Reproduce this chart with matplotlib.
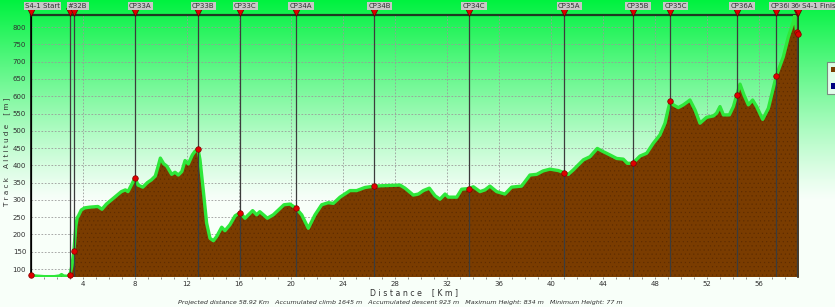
import numpy as np
import matplotlib
matplotlib.use("Agg")
import matplotlib.pyplot as plt
import matplotlib.transforms as mtransforms
from matplotlib.patches import Patch

# ---------------- data ----------------
dist_km = [0.0, 0.3, 1.0, 1.8, 2.2, 2.35, 2.5, 2.8, 3.0, 3.15, 3.3, 3.45, 3.55, 3.65, 3.87,
           4.13, 4.5, 5.15, 5.46, 5.8, 6.18, 6.56, 6.95, 7.26, 7.46, 7.75, 8.0, 8.23, 8.6,
           8.95, 9.26, 9.56, 9.8, 9.95, 10.2, 10.44, 10.82, 11.08, 11.33, 11.6, 11.85, 12.1,
           12.41, 12.6, 12.85, 13.0, 13.25, 13.51, 13.77, 14.03, 14.28, 14.67, 14.92, 15.3,
           15.7, 16.08, 16.46, 17.05, 17.36, 17.6, 18.18, 18.64, 19.03, 19.46, 19.92, 20.36,
           20.82, 21.33, 21.85, 22.36, 22.87, 23.26, 23.77, 24.54, 25.05, 25.69, 26.4, 26.97,
           28.38, 28.77, 29.41, 29.8, 30.18, 30.64, 31.08, 31.46, 31.85, 32.1, 32.75, 33.13,
           33.67, 34.03, 34.54, 34.92, 35.3, 35.82, 36.46, 36.97, 37.74, 38.38, 38.9, 39.4,
           39.92, 40.56, 41.0, 41.33, 41.72, 42.49, 43.0, 43.56, 44.0, 44.54, 45.05, 45.56,
           45.87, 46.28, 46.85, 47.36, 47.87, 48.38, 48.77, 49.03, 49.18, 49.41, 49.79, 50.18,
           50.69, 51.08, 51.46, 51.97, 52.49, 52.74, 53.0, 53.26, 53.72, 54.03, 54.28, 54.54,
           54.85, 55.18, 55.51, 55.82, 56.28, 56.72, 57.1, 57.33, 57.87, 58.26, 58.64, 58.75,
           58.9, 58.98]
altitude_m = [84, 80, 78, 78, 80, 84, 80, 79, 84, 110, 153, 225, 248, 254, 271,
              277, 279, 281, 273, 288, 300, 312, 324, 329, 324, 345, 364, 343, 337,
              350, 358, 369, 400, 421, 405, 398, 374, 380, 372, 382, 414, 404,
              430, 440, 447, 416, 329, 233, 189, 182, 194, 221, 211, 228,
              254, 263, 247, 269, 257, 266, 247, 257, 271, 286, 288, 277,
              257, 218, 257, 286, 292, 290, 308, 327, 327, 336, 340, 341,
              343, 334, 314, 317, 327, 334, 312, 302, 317, 308, 308, 331,
              333, 338, 324, 329, 340, 324, 317, 337, 340, 372, 374, 384,
              389, 385, 379, 374, 387, 416, 425, 449, 440, 430, 420, 418,
              406, 406, 427, 435, 464, 488, 522, 565, 586, 575, 567, 575,
              589, 560, 522, 539, 543, 551, 570, 546, 546, 570, 603, 635,
              603, 575, 589, 570, 533, 565, 623, 659, 714, 772, 815, 834,
              785, 781]

checkpoint_names = ["S4-1 Start", "", "#32B", "CP33A", "CP33B", "CP33C", "CP34A", "CP34B",
                    "CP34C", "CP35A", "CP35B", "CP35C", "CP36A", "CP36B", "36C", "S4-1 Finish"]
checkpoint_km = [0.0, 3.0, 3.3, 8.0, 12.85, 16.08, 20.36, 26.4, 33.67, 41.0, 46.28, 49.18,
                 54.28, 57.33, 58.9, 58.98]

x_ticks = [4, 8, 12, 16, 20, 24, 28, 32, 36, 40, 44, 48, 52, 56]
y_ticks = [100, 150, 200, 250, 300, 350, 400, 450, 500, 550, 600, 650, 700, 750, 800]

x_label = "D i s t a n c e    [ K m ]"
y_label = "T r a c k    A l t i t u d e    [ m ]"
footer = ("Projected distance 58.92 Km   Accumulated climb 1645 m   Accumulated descent 923 m"
          "   Maximum Height: 834 m   Minimum Height: 77 m")

# ---------------- figure ----------------
W, H = 835, 307
fig = plt.figure(figsize=(W / 100, H / 100), dpi=100)

# background gradient (green top -> white bottom)
bg = fig.add_axes([0, 0, 1, 1], zorder=-10)
rows = np.arange(H)
f = np.clip(1 - rows / 200.0, 0, 1) ** 1.15
green = np.array([0.0, 0.95, 0.25])
white = np.array([0.975, 1.0, 0.98])
grad = (f[:, None] * green + (1 - f[:, None]) * white)[:, None, :]
grad = np.repeat(grad, 2, axis=1)
bg.imshow(grad, aspect="auto", extent=[0, 1, 0, 1], origin="upper")
bg.set_axis_off()

L, R, T, B = 31, 798, 15, 277
ax = fig.add_axes([L / W, 1 - B / H, (R - L) / W, (B - T) / H])
ax.patch.set_alpha(0)

x = np.array(dist_km)
y = np.array(altitude_m)
ymin, ymax = 77, 835
ax.set_xlim(0, 59.0)
ax.set_ylim(ymin, ymax)

# grid
for gx in x_ticks:
    ax.axvline(gx, color="#9a9a9a", lw=0.6, ls=(0, (2, 2)), zorder=1)
for gy in y_ticks:
    ax.axhline(gy, color="#9a9a9a", lw=0.6, ls=(0, (2, 2)), zorder=1)

plt.rcParams["hatch.linewidth"] = 0.35
ax.fill_between(x, ymin, y, facecolor="#7a3c00", edgecolor="#5e2c00", hatch="....",
                linewidth=0, zorder=2)
ax.plot(x, y, color="#2ee83a", lw=2.4, zorder=3, solid_joinstyle="round")

# checkpoint lines
for i, km in enumerate(checkpoint_km):
    if i == 0:
        ax.axvline(km, color="black", lw=1.6, zorder=4)
    else:
        ax.axvline(km, color="#3c3c3c", lw=0.9, zorder=4)

# red dots on profile
cp_alt = np.interp(checkpoint_km, x, y)
ax.scatter(checkpoint_km, cp_alt, s=16, color="#e00000", edgecolors="#800000",
           linewidths=0.5, zorder=6, clip_on=False)

# top markers and labels
blend = mtransforms.blended_transform_factory(ax.transData, ax.transAxes)
for i, (name, km) in enumerate(zip(checkpoint_names, checkpoint_km)):
    ax.plot([km], [1 + 3.0 / (B - T)], marker="v", ms=5.5, color="#e00000",
            mec="#600000", mew=0.5, transform=blend, clip_on=False, zorder=7)
    if not name:
        continue
    dx = 4 / 100 if name == "S4-1 Finish" else -6 / 100
    tr = blend + mtransforms.ScaledTranslation(dx, 0, fig.dpi_scale_trans)
    ax.text(km, 1 + 9.0 / (B - T), name, transform=tr, ha="left", va="center",
            fontsize=5, color="#303030", clip_on=False, zorder=8,
            bbox=dict(boxstyle="square,pad=0.2", fc="#c8c8c8", ec="none"))

# spines
ax.spines["bottom"].set_visible(False)
ax.spines["top"].set_color("#1e3a22")
ax.spines["top"].set_linewidth(1.6)
ax.spines["left"].set_color("black")
ax.spines["left"].set_linewidth(1.2)
ax.spines["right"].set_color("#2a1500")
ax.spines["right"].set_linewidth(1.2)

ax.set_xticks(x_ticks)
ax.set_xticklabels([str(t) for t in x_ticks])
ax.set_xticks(np.arange(1, 59, 1), minor=True)
ax.set_yticks(y_ticks)
ax.set_yticklabels([str(t) for t in y_ticks])
ax.tick_params(axis="y", which="major", labelsize=5, colors="#303030", length=0, pad=3.5)
ax.tick_params(axis="x", which="minor", length=1.5, width=0.5, color="#606060")
ax.tick_params(axis="x", which="major", labelsize=5, labelcolor="#303030", length=1.5,
               width=0.5, color="#606060", pad=1.5)

fig.text(414 / W, 1 - 293 / H, x_label, ha="center", va="center", fontsize=5.6,
         color="#303030")
fig.text(7 / W, 1 - 152 / H, y_label, ha="center", va="center", fontsize=5.2,
         color="#303030", rotation=90)
fig.text(400 / W, 1 - 302.5 / H, footer, ha="center", va="center", fontsize=4.6,
         style="italic", color="#303030")

# legend (cut by the right edge, like the original)
handles = [Patch(facecolor="#7a3c00", edgecolor="none"),
           Patch(facecolor="#000080", edgecolor="none")]
leg = fig.legend(handles, ["Altitude", "Speed"], loc="upper left",
                 bbox_to_anchor=(823 / W, 1 - 58 / H), fontsize=6, frameon=True,
                 fancybox=False, handlelength=1.2, handleheight=0.6, borderpad=0.4,
                 labelspacing=0.9)
leg.get_frame().set_edgecolor("#707070")
leg.get_frame().set_linewidth(0.8)

fig.savefig("out.png", dpi=100)
